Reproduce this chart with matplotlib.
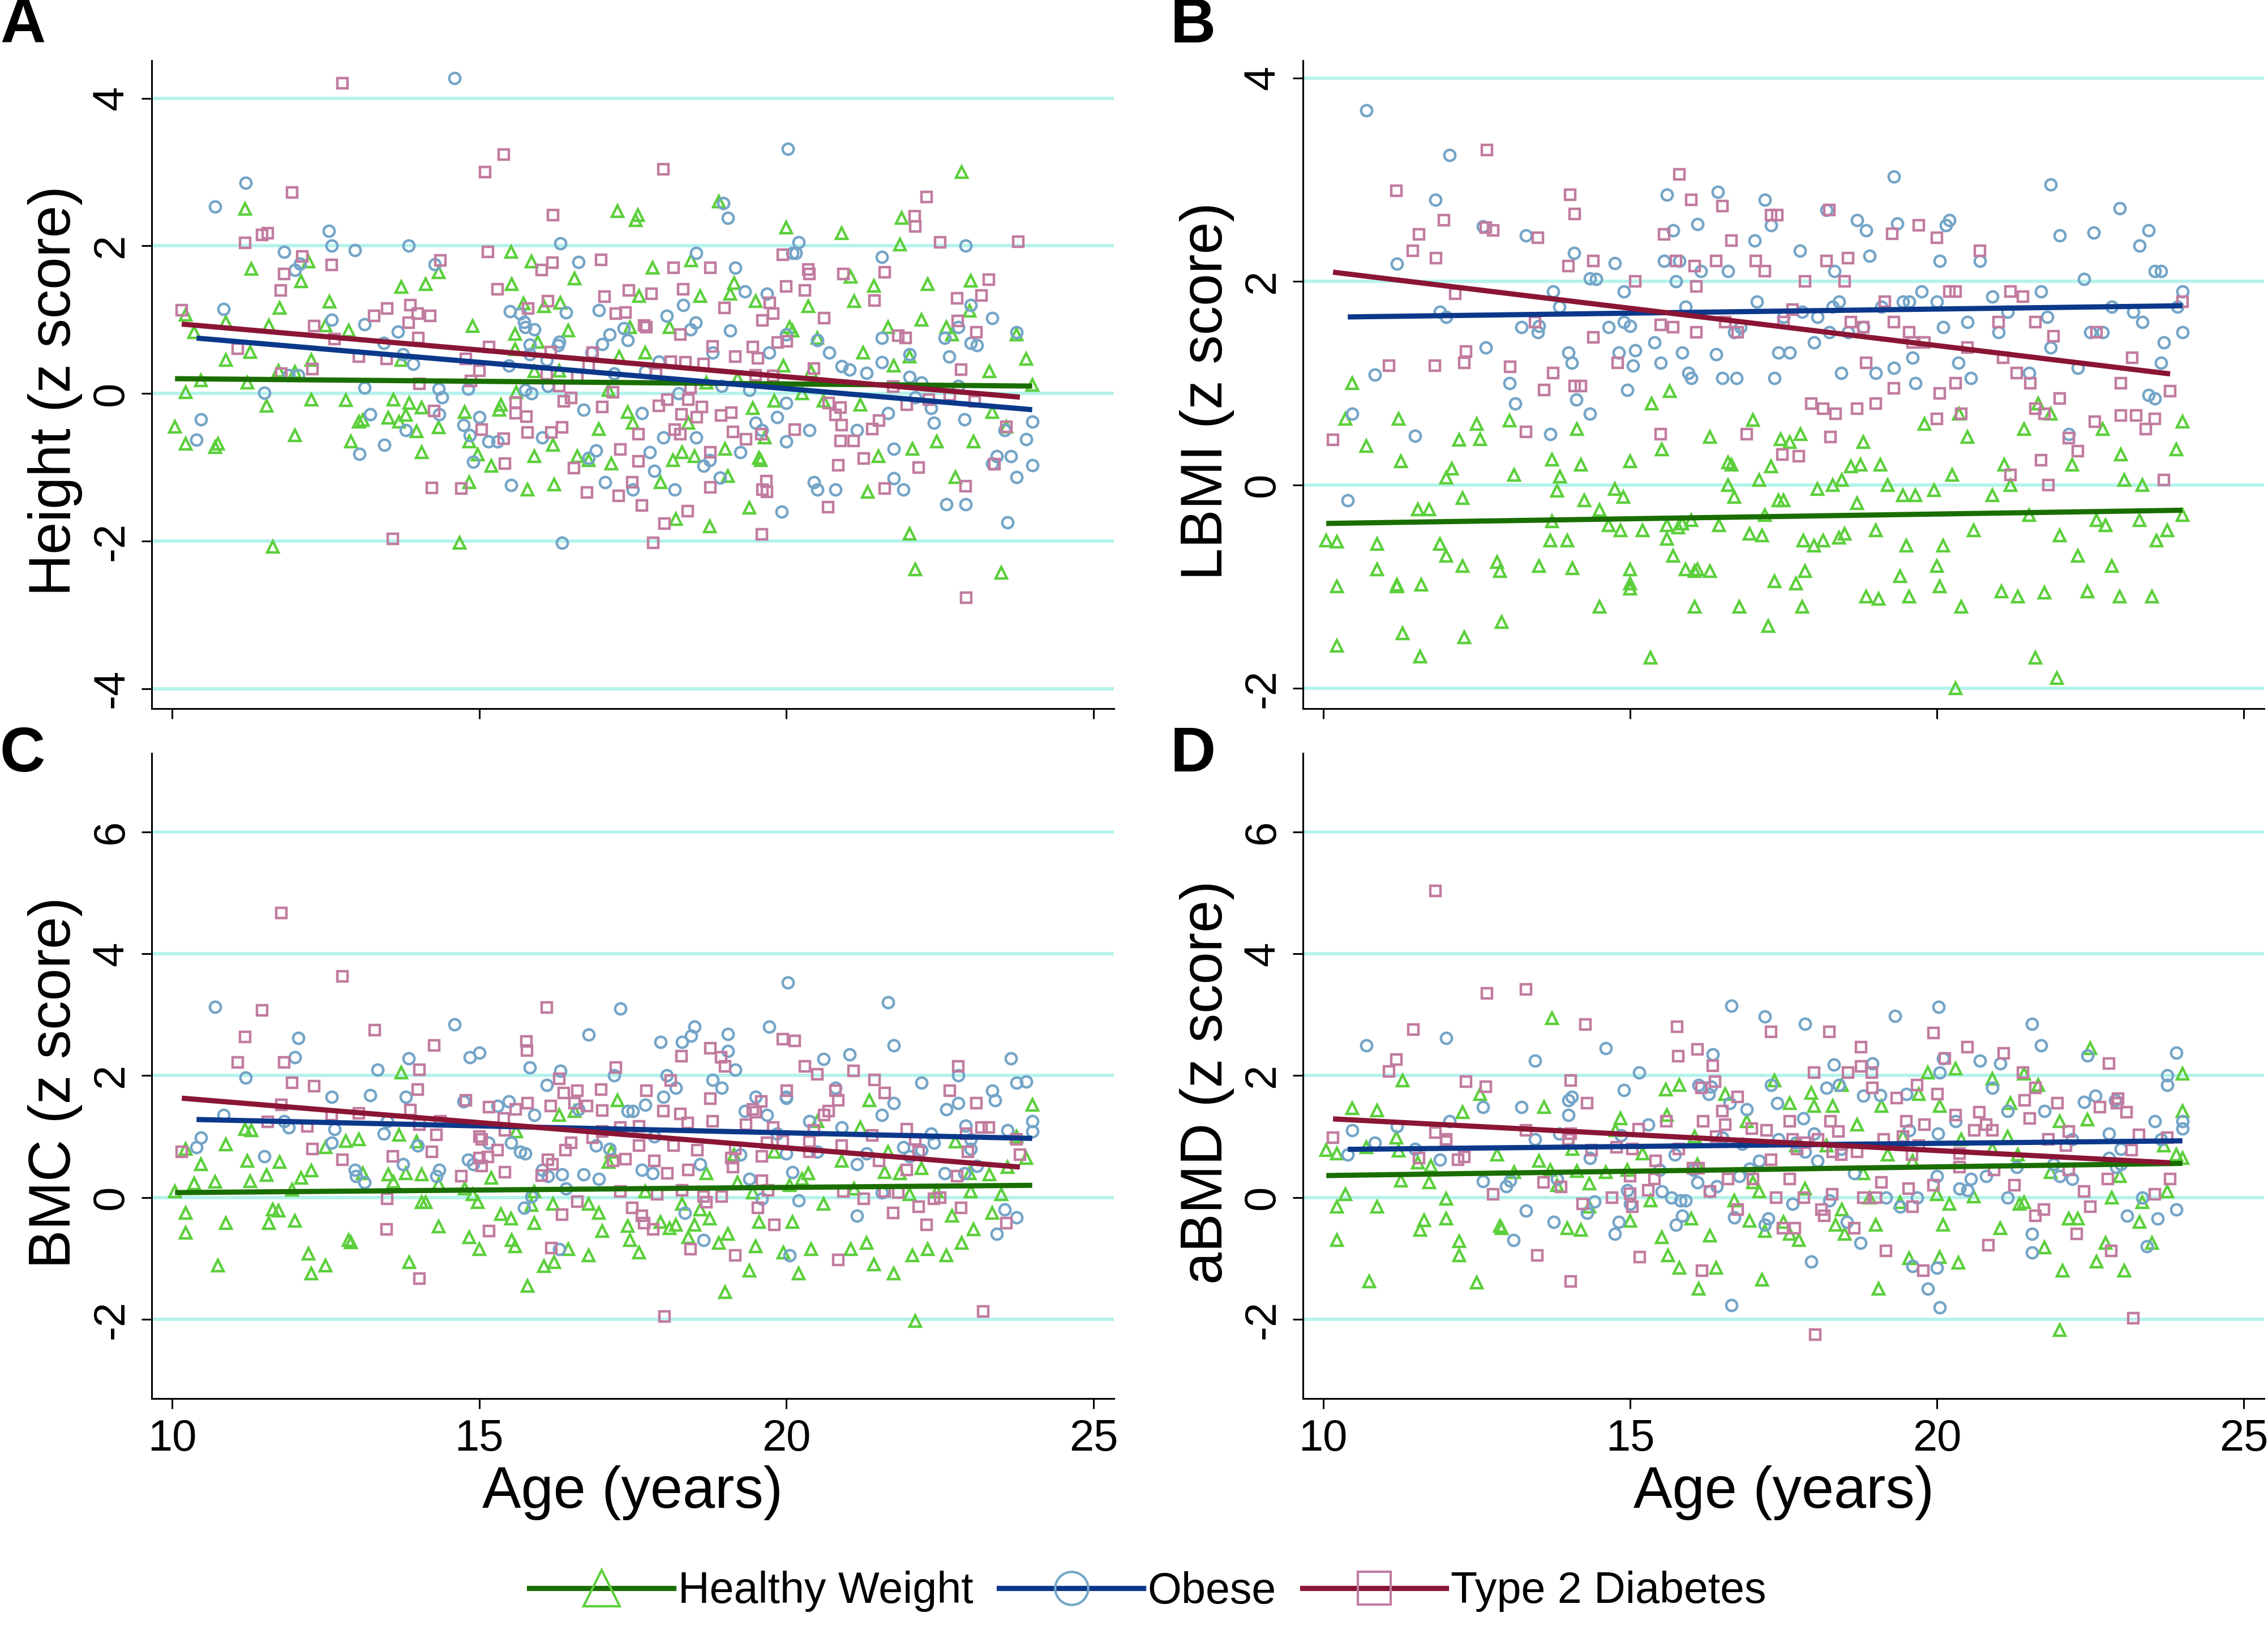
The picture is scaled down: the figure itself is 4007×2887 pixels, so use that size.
import matplotlib
matplotlib.use("Agg")
import matplotlib.pyplot as plt
from matplotlib.lines import Line2D

plt.rcParams['font.family'] = ['Liberation Sans', 'DejaVu Sans']
plt.rcParams['axes.unicode_minus'] = False

W, H = 4007, 2887

a_hw = [(10.05,-.45),(10.22,-.68),(10.22,.02),(10.22,1.07),(10.36,.83),(10.47,.18),(10.7,-.73),(10.75,-.68),(10.88,.45),(10.88,.97),
(11.19,2.5),(11.23,.15),(11.27,.56),(11.29,1.69),(11.54,-.17),(11.58,.92),(11.64,-2.08),(11.73,.31),(11.75,1.16),(12.0,.29),(12.0,-.57),
(12.1,1.52),(12.22,1.79),(12.27,-.08),(12.27,.45),(12.5,.92),(12.56,1.24),(12.83,-.09),(12.88,.85),(12.91,-.65),(13.04,-.38),(13.11,-.36),
(13.52,-.33),(13.6,-.08),(13.7,-.38),(13.73,1.44),(13.73,.45),(13.81,-.29),(13.86,-.13),(13.98,-.51),(14.06,-.8),(14.06,-.19),(14.13,1.48),
(14.34,-.46),(14.34,1.64),(14.68,-2.02),(14.76,-.25),(14.84,-1.2),(14.89,.91),(14.84,-.65),(14.98,-.83),(15.2,-.98),(15.33,-.22),(15.35,-.15),
(15.52,1.92),(15.53,1.48),(15.58,.81),(15.58,.6),(15.6,.02),(15.72,1.22),(15.79,-1.3),(15.85,1.79),(15.9,-.85),(15.9,.3),(15.95,.7),
(16.05,1.18),(16.2,-.7),(16.22,-1.23),(16.3,.31),(16.32,1.23),(16.45,.85),(16.55,1.56),(16.6,-.85),(16.78,-.9),(16.95,-.48),(17.1,.05),
(17.15,-.95),(17.25,2.47),(17.28,.5),(17.42,-.25),(17.45,.9),(17.5,-.4),(17.55,2.35),(17.58,2.42),(17.6,1.32),(17.7,.55),(17.82,1.7),(17.95,-1.2),
(18.1,.9),(18.15,-.9),(18.2,-1.7),(18.3,-.8),(18.4,-.4),(18.45,1.8),(18.5,-.85),(18.6,1.32),(18.7,.15),(18.75,-1.8),(18.9,2.6),(19.0,-.75),
(19.05,-1.12),(19.08,1.35),(19.15,1.5),(19.2,.2),(19.4,-1.55),(19.45,-.2),(19.5,1.25),(19.55,-.87),(19.58,-.9),(19.65,-.6),(19.8,-.1),
(19.95,.38),(20.0,2.25),(20.05,.9),(20.1,.85),(20.25,.0),(20.36,1.18),(20.4,.3),(20.5,.75),(20.6,-.1),(20.9,2.17),(21.05,1.58),(21.1,1.25),
(21.2,-.15),(21.25,.55),(21.32,-1.33),(21.42,1.46),(21.5,-.85),(21.65,.9),(21.75,.38),(21.85,2.02),(21.88,2.38),(22.0,.5),(22.05,-.75),(22.1,-2.38),
(22.0,-1.9),(22.2,1.0),(22.3,1.48),(22.45,-.65),(22.6,.9),(22.7,.8),(22.75,-1.13),(22.85,3.0),(22.98,1.12),(23.0,1.53),(23.05,-.65),(23.3,.3),
(23.35,-.25),(23.5,-2.43),(23.58,-.45),(23.75,.8),(23.9,.47),(24.0,.12)]
a_ob = [(10.4,-.63),(10.47,-.35),(10.7,2.53),(10.84,1.14),(11.2,2.85),(11.5,0.01),(11.83,1.92),(11.9,.25),(12.0,1.67),(12.08,1.76),(12.06,.25),
(12.55,2.2),(12.6,1.0),(12.6,2.0),(12.98,1.94),(13.05,-.82),(13.13,.94),(13.13,.08),(13.23,-.28),(13.45,.68),(13.46,-.7),(13.68,.84),(13.76,.53),
(13.81,-.5),(13.85,2.0),(13.93,.4),(14.28,1.75),(14.34,.06),(14.4,-.05),(14.35,-.28),(14.6,4.27),(14.75,-.43),(14.82,.06),(14.85,-.57),(14.9,-.93),
(15.0,-.32),(15.15,-.65),(15.3,-.65),(15.48,.38),(15.5,1.11),(15.52,-1.24),(15.67,1.08),(15.73,.97),(15.75,.9),(15.75,.05),(15.82,.66),(15.82,.53),
(15.85,.0),(15.9,.87),(16.03,-.6),(16.1,.45),(16.12,.1),(16.28,.65),(16.3,.7),(16.32,2.03),(16.35,-2.02),(16.41,1.1),(16.62,1.78),(16.7,-.22),
(16.78,-.87),(16.83,.55),(16.9,-.77),(16.95,1.13),(17.0,.67),(17.05,-1.2),(17.12,.8),(17.2,.27),(17.35,.88),(17.42,.72),(17.5,-1.3),(17.65,-.27),
(17.7,.3),(17.78,-.8),(17.85,-1.05),(17.92,.43),(18.0,-.6),(18.05,1.05),(18.18,-1.3),(18.25,-.0),(18.32,1.2),(18.44,.87),(18.52,.96),(18.53,1.9),
(18.53,-.6),(18.65,-.98),(18.75,-.9),(18.8,.55),(18.95,.1),(18.92,-1.14),(18.97,2.58),(19.05,2.38),(19.08,.85),(19.17,1.7),(19.25,-.8),(19.32,1.38),
(19.4,.05),(19.5,-.4),(19.6,-.5),(19.68,1.35),(19.72,.55),(19.85,-.32),(19.92,-1.6),(20.0,-.13),(20.0,.8),(20.0,-.65),(20.02,3.31),(20.1,1.9),
(20.15,1.9),(20.2,2.05),(20.37,-.5),(20.45,-1.2),(20.5,-1.3),(20.5,.72),(20.7,.55),(20.8,-1.3),(20.9,.37),(21.03,.32),(21.15,-.5),(21.3,.28),
(21.55,.42),(21.55,1.85),(21.55,.75),(21.65,-.27),(21.75,-.75),(21.75,-1.15),(21.9,-1.3),(22.0,.53),(22.0,.22),(22.1,-.05),(22.2,.15),(22.35,-.2),
(22.4,-.4),(22.58,.75),(22.65,.5),(22.6,-1.5),(22.8,.9),(22.8,.1),(22.9,-.35),(22.92,2.0),(22.92,-1.5),(23.0,.68),(23.1,.65),(23.0,1.2),(23.35,-.95),
(23.35,1.02),(23.42,-.85),(23.55,-.5),(23.6,-1.75),(23.65,-.85),(23.75,-1.13),(23.75,.83),(23.9,-.62),(24.0,-.97),(24.0,-.38)]
a_t2 = [(12.77,4.2),(15.4,3.24),(15.1,3.0),(18.0,3.04),(11.95,2.72),(16.2,2.42),(22.28,2.66),(22.09,2.4),(22.1,2.26),(22.5,2.05),(23.77,2.06),(11.56,2.17),
(11.47,2.15),(11.19,2.04),(12.12,1.86),(12.6,1.74),(14.37,1.8),(15.14,1.92),(11.83,1.62),(11.77,1.4),(16.02,1.67),(16.19,1.77),(16.98,1.81),(18.16,1.7),
(18.76,1.7),(19.94,1.88),(20.36,1.68),(20.37,1.62),(20.93,1.62),(21.6,1.64),(23.29,1.54),(20.0,1.45),(20.3,1.4),(18.32,1.41),(17.44,1.4),(17.8,1.35),
(17.04,1.31),(15.3,1.41),(22.78,1.29),(23.17,1.33),(21.43,1.26),(19.73,1.23),(18.99,1.16),(16.12,1.25),(15.8,1.15),(10.16,1.13),(13.88,1.2),(13.5,1.15),
(13.29,1.05),(14.0,1.08),(14.2,1.05),(13.85,.96),(17.22,1.08),(17.38,1.1),(19.78,1.08),(19.61,.99),(20.61,1.02),(22.79,.98),(23.09,.83),(12.31,.91),
(17.68,.92),(17.72,.9),(18.27,.8),(21.82,.78),(21.94,.75),(12.65,.74),(14.01,.75),(19.86,.69),(20.01,.71),(15.16,.63),(11.07,.61),(18.8,.64),(19.45,.63),
(16.16,.56),(16.85,.55),(13.04,.5),(13.49,.47),(14.78,.47),(19.17,.5),(19.54,.48),(16.78,.38),(18.36,.42),(18.65,.4),(18.12,.43),(12.29,.33),(11.78,.27),
(15.0,.31),(20.45,.34),(22.84,.32),(16.1,.26),(16.6,.22),(17.88,.27),(19.5,.25),(19.78,.24),(14.87,.17),(14.03,.13),(21.74,.09),(16.3,.1),(17.18,.02),
(18.44,.08),(22.66,-.02),(16.5,-.06),(16.38,-.11),(15.59,-.12),(17.0,-.18),(18.06,-.08),(18.4,-.08),(17.92,-.17),(18.62,-.18),(20.69,-.13),(20.88,-.19),
(21.96,-.15),(22.32,-.08),(23.06,-.11),(14.27,-.24),(15.59,-.27),(15.77,-.31),(18.29,-.28),(19.1,-.26),(18.94,-.3),(18.54,-.32),(20.8,-.29),(21.51,-.37),
(20.9,-.43),(23.58,-.45),(21.4,-.48),(20.13,-.49),(18.18,-.49),(18.27,-.55),(19.13,-.52),(19.59,-.55),(16.35,-.46),(16.17,-.53),(15.04,-.49),(15.79,-.53),
(17.59,-.55),(15.4,-.61),(19.34,-.62),(20.88,-.64),(21.09,-.64),(17.3,-.76),(18.76,-.8),(17.59,-.92),(21.26,-.88),(15.42,-.95),(16.54,-1.01),(20.84,-.97),
(22.15,-1.0),(23.39,-.96),(17.49,-1.2),(19.67,-1.19),(14.23,-1.28),(14.71,-1.29),(18.76,-1.27),(19.61,-1.3),(19.68,-1.33),(21.6,-1.29),(22.92,-1.26),
(16.75,-1.34),(17.27,-1.39),(17.65,-1.52),(18.39,-1.59),(20.68,-1.54),(18.02,-1.76),(19.6,-1.91),(13.59,-1.97),(17.83,-2.02),(22.93,-2.77)]

# panel B
b_hw = [(10.05,-.55),(10.22,-.56),(10.22,-1.0),(10.22,-1.58),(10.36,.65),(10.47,1.0),(10.7,.38),(10.88,-.58),(10.88,-.83),(11.2,-1.0),(11.2,-.98),(11.23,.65),
(11.27,.23),(11.29,-1.46),(11.54,-.24),(11.58,-1.69),(11.73,-.24),(11.6,-.98),(11.9,-.58),(12.0,-.7),(12.0,.07),(12.1,.16),(12.22,.44),(12.27,-.8),(12.27,-.13),
(12.3,-1.5),(12.5,.6),(12.56,.45),(12.83,-.76),(12.88,-.85),(12.91,-1.35),(13.04,.63),(13.11,.1),(13.52,-.8),(13.7,-.55),(13.73,-.36),(13.73,.25),(13.81,-.06),
(13.86,.08),(13.98,-.55),(14.06,-.82),(14.13,.55),(14.2,.2),(14.25,-.15),(14.5,-.25),(14.5,-1.2),(14.65,-.4),(14.75,-.04),(14.84,-.45),(14.89,-.12),(15.0,.23),
(15.0,-.83),(15.0,-.97),(15.0,-1.02),(15.2,-.45),(15.35,.8),(15.33,-1.7),(15.52,.35),(15.6,-.4),(15.6,-.53),(15.65,.92),(15.7,-.7),(15.78,-.42),(15.85,-.38),
(15.9,-.83),(16.0,-.35),(16.05,-.85),(16.05,-1.2),(16.1,-.83),(16.3,-.85),(16.3,.47),(16.45,-.4),(16.6,.22),(16.6,.0),(16.65,.2),(16.7,-.12),(16.78,-1.2),
(16.95,-.48),(17.0,.64),(17.1,.05),(17.15,-.5),(17.2,-.3),(17.25,-1.39),(17.3,.18),(17.35,-.95),(17.42,-.15),(17.45,.45),(17.5,-.15),(17.6,.42),(17.7,-.97),
(17.78,.5),(17.8,-1.2),(17.82,-.55),(17.85,-.85),(18.0,-.6),(18.05,-.04),(18.15,-.55),(18.3,.0),(18.4,-.52),(18.45,.05),(18.5,-.48),(18.6,.18),(18.7,-.18),
(18.75,.2),(18.8,.42),(18.85,-1.1),(19.0,-.45),(19.05,-1.12),(19.08,.2),(19.2,.0),(19.4,-.9),(19.45,-.1),(19.5,-.6),(19.55,-1.1),(19.65,-.1),(19.8,.6),(19.95,-.05),
(20.0,-.8),(20.05,-1.0),(20.1,-.6),(20.25,.1),(20.36,.7),(20.4,-1.2),(20.3,-2.0),(20.5,.47),(20.6,-.45),(20.9,-.1),(21.05,-1.05),(21.1,.2),(21.2,.0),(21.32,-1.1),(21.42,.55),
(21.5,-.3),(21.65,.8),(21.75,-1.06),(21.85,.7),(21.6,-1.7),(22.0,-.5),(21.95,-1.9),(22.2,.2),(22.3,-.7),(22.45,-1.05),(22.6,-.35),(22.7,.55),(22.75,-.4),(22.85,-.8),
(22.98,-1.1),(23.0,.3),(23.05,.05),(23.3,-.35),(23.35,.0),(23.5,-1.1),(23.58,-.55),(23.75,-.45),(23.9,.35),(24.0,.62),(24.0,-.3)]
b_ob = [(10.4,-.15),(10.47,.7),(10.7,3.68),(10.84,1.08),(11.2,2.17),(11.5,.48),(11.83,2.8),(11.9,1.7),(12.0,1.65),(12.06,3.24),(12.6,2.54),(12.65,1.35),
(13.04,1.0),(13.13,.8),(13.23,1.55),(13.3,2.45),(13.5,1.5),(13.52,1.56),(13.7,.5),(13.75,1.9),(13.85,1.75),(14.0,1.3),(14.05,1.2),(14.09,2.28),(14.12,.84),(14.35,2.03),
(14.35,.7),(14.45,2.02),(14.65,1.55),(14.75,2.18),(14.82,1.3),(14.9,1.9),(14.9,1.6),(14.95,.93),(15.0,1.56),(15.05,1.17),(15.08,1.32),(15.4,1.4),(15.5,1.2),
(15.55,2.2),(15.6,2.85),(15.7,2.5),(15.75,2.0),(15.8,2.2),(15.85,1.3),(15.9,1.75),(15.95,1.1),(16.0,1.05),(16.1,2.56),(16.15,2.1),(16.4,1.28),(16.43,2.88),(16.5,1.05),
(16.6,2.1),(16.7,1.5),(16.73,1.05),(16.8,1.55),(17.03,2.4),(17.07,1.8),(17.2,2.8),(17.3,2.55),(17.35,1.05),(17.42,1.3),(17.5,1.65),(17.6,1.3),(17.77,2.3),(17.8,1.7),
(18.0,1.4),(18.05,1.65),(18.2,2.7),(18.25,1.5),(18.3,1.75),(18.33,2.1),(18.4,1.8),(18.44,1.1),(18.55,1.5),(18.7,2.6),(18.8,1.55),(18.85,2.5),(18.9,2.25),(19.0,1.1),
(19.1,1.75),(19.3,1.15),(19.35,2.57),(19.45,1.8),(19.55,1.8),(19.6,1.25),(19.65,1.0),(19.3,3.03),(19.75,1.9),(20.0,1.8),(20.05,2.2),(20.1,1.55),(20.15,2.55),(20.2,2.6),
(20.35,1.2),(20.5,1.6),(20.55,1.05),(20.7,2.2),(20.9,1.85),(21.0,1.5),(21.15,1.7),(21.5,1.1),(21.7,1.9),(21.8,1.65),(21.85,1.35),(22.0,2.45),(22.15,.5),(22.3,1.15),
(22.4,2.02),(22.5,1.5),(22.55,2.48),(22.7,1.5),(22.85,1.75),(21.85,2.95),(23.2,1.7),(23.3,2.35),(23.35,1.6),(23.45,.88),(23.55,.85),(23.65,1.2),(23.7,1.4),
(22.98,2.72),(23.45,2.5),(23.55,2.1),(23.65,2.1),(24.0,1.9),(24.0,1.5),(23.92,1.75)]
b_t2 = [(10.16,.44),(11.07,1.17),(11.19,2.89),(11.46,2.3),(11.56,2.46),(11.82,1.17),(11.84,2.23),(11.97,2.6),(12.15,1.88),(12.3,1.2),(12.33,1.31),(12.65,2.53),(12.77,2.5),
(12.67,3.29),(13.05,1.16),(13.5,2.43),(13.3,.52),(13.6,.93),(13.45,1.6),(13.75,1.1),(14.02,2.85),(14.0,2.15),(14.1,2.66),(14.1,.97),(14.2,.97),(14.4,2.2),(14.4,1.45),
(14.8,1.2),(15.08,2.0),(15.5,.5),(15.55,2.46),(15.5,1.57),(15.7,1.55),(15.75,2.2),(16.0,2.8),(16.05,2.15),(16.08,1.95),(16.08,1.5),(15.8,3.05),(16.4,2.2),(16.5,2.74),
(16.55,1.6),(16.65,2.4),(16.75,1.5),(16.9,.5),(17.05,2.2),(17.2,2.1),(17.3,2.65),(17.4,2.65),(17.48,.3),(17.5,1.6),(17.65,1.72),(17.75,.28),(17.85,2.0),(17.95,.8),(18.15,.75),
(18.2,2.2),(18.25,2.7),(18.27,.47),(18.35,.7),(18.5,2.0),(18.55,2.23),(18.6,1.6),(18.7,.75),(18.8,1.55),(18.85,1.2),(19.0,.8),(19.15,1.8),(19.27,2.47),(19.3,.95),
(19.3,1.6),(19.55,1.5),(19.6,1.4),(19.7,2.55),(19.8,1.4),(20.0,2.43),(20.0,.65),(20.05,.9),(20.2,1.9),(20.3,1.0),(20.3,1.9),(20.4,.7),(20.5,1.35),(20.7,2.3),(21.0,1.6),
(21.08,1.25),(21.2,1.9),(21.2,.1),(21.3,1.1),(21.4,1.85),(21.52,1.0),(21.6,.75),(21.7,.24),(21.75,.7),(21.6,1.6),(21.82,.0),(21.9,1.46),(22.0,.85),(22.15,.46),(22.3,.33),
(22.57,.62),(22.6,1.5),(23.0,1.0),(23.18,1.25),(23.0,.68),(23.25,.68),(23.4,.55),(23.55,.65),(23.7,.05),(23.8,.92),(24.0,1.8)]

# panel C
c_hw = [(10.05,.1),(10.22,-.25),(10.22,-.58),(10.22,.8),(10.36,.23),(10.47,.55),(10.7,.26),(10.75,-1.12),(10.88,-.42),(10.88,.87),(11.19,1.12),(11.23,.6),(11.27,.27),(11.29,1.1),
(11.54,.37),(11.58,-.42),(11.64,-.2),(11.73,-.22),(11.75,.58),(11.95,.13),(12.0,-.38),(12.1,.32),(12.22,-.92),(12.27,.44),(12.27,-1.25),(12.5,.82),(12.5,-1.12),(12.83,.93),
(12.88,-.7),(12.91,-.74),(13.04,.95),(13.11,.4),(13.52,.38),(13.6,.26),(13.7,1.03),(13.73,2.05),(13.81,.4),(13.86,-1.06),(13.98,.92),(14.06,.38),(14.06,-.08),(14.13,-.08),
(14.34,.22),(14.34,-.48),(14.76,.15),(14.84,-.65),(14.89,.05),(14.98,-.08),(15.0,-.85),(15.2,.32),(15.35,-.27),(15.52,-.35),(15.53,-.7),(15.58,-.8),(15.6,1.08),(15.79,-1.45),
(15.85,-.12),(15.9,-.42),(15.9,.1),(16.05,-1.13),(16.2,-.1),(16.22,-1.06),(16.3,1.35),(16.45,-.85),(16.55,1.42),(16.78,-.1),(16.78,-.95),(16.95,-.25),(17.0,-.55),(17.1,.58),
(17.15,.75),(17.25,1.6),(17.42,-.47),(17.45,-.7),(17.6,-.9),(17.7,.1),(17.95,-.4),(18.1,-.5),(18.2,-.45),(18.3,-.1),(18.4,-.65),(18.5,-.45),(18.6,-.2),(18.7,.4),(18.75,-.35),
(18.9,-.75),(19.0,-1.55),(19.05,-.6),(19.15,.7),(19.2,.25),(19.4,-1.2),(19.45,.08),(19.5,-.8),(19.55,-.4),(19.8,.75),(19.95,-.9),(20.05,.2),(20.1,-.4),(20.2,-1.25),(20.25,.3),
(20.36,.4),(20.4,-.85),(20.5,1.25),(20.6,-.1),(20.9,.6),(21.05,-.85),(21.1,.15),(21.2,1.15),(21.3,-.75),(21.35,1.6),(21.42,-1.1),(21.6,.42),(21.65,.75),(21.75,-1.25),(21.85,.4),
(22.0,.05),(22.05,-.95),(22.1,-2.03),(22.2,.48),(22.3,-.85),(22.45,.1),(22.6,-.95),(22.7,-.3),(22.75,.92),(22.85,-.75),(22.98,.4),(23.0,.1),(23.05,-.52),(23.3,.38),(23.35,-.25),
(23.5,.05),(23.6,.5),(23.75,1.0),(23.9,.65),(24.0,1.52)]
c_ob = [(10.4,.82),(10.47,.98),(10.7,3.13),(10.84,1.35),(11.2,1.97),(11.5,.68),(11.83,1.25),(11.9,1.15),(12.0,2.3),(12.06,2.62),(12.6,1.65),(12.6,.9),(12.65,1.12),(12.98,.45),
(13.0,.35),(13.13,.25),(13.23,1.68),(13.35,2.1),(13.45,1.05),(13.5,1.25),(13.76,.55),(13.81,1.65),(13.85,2.28),(14.0,.85),(14.35,.45),(14.3,.35),(14.6,2.84),(14.75,1.58),(14.82,.62),
(14.85,2.3),(14.9,.55),(15.0,2.38),(15.15,.9),(15.3,1.5),(15.48,1.58),(15.52,.9),(15.67,.75),(15.73,-.17),(15.75,.72),(15.85,.02),(15.9,1.35),(15.82,2.13),(16.03,.45),(16.1,1.85),
(16.12,.35),(16.3,-.85),(16.32,2.08),(16.35,.38),(16.41,.15),(16.62,1.45),(16.7,.38),(16.78,2.67),(16.9,.85),(16.95,.3),(17.12,.8),(17.2,2.0),(17.3,3.1),(17.42,1.42),(17.5,1.42),
(17.65,.45),(17.7,1.52),(17.82,.4),(17.85,1.0),(17.95,2.55),(18.0,1.65),(18.05,2.0),(18.2,1.8),(18.3,2.55),(18.35,-.25),(18.45,2.65),(18.5,2.8),(18.6,.55),(18.65,-.7),(18.8,1.93),
(18.95,1.8),(19.05,2.68),(19.05,2.4),(19.17,2.1),(19.25,.7),(19.32,1.42),(19.4,.3),(19.5,1.65),(19.6,-.02),(19.68,1.35),(19.72,2.8),(19.85,1.05),(20.0,1.65),(20.0,1.63),(20.0,.72),
(20.02,3.53),(20.05,-.95),(20.1,.42),(20.2,-.05),(20.37,1.25),(20.5,.75),(20.6,2.27),(20.8,1.8),(20.9,1.15),(21.03,2.35),(21.15,-.3),(21.15,.55),(21.3,.72),(21.55,.08),(21.55,1.35),
(21.65,3.2),(21.75,2.5),(21.75,1.55),(21.9,.82),(22.0,.68),(22.2,.78),(22.2,1.88),(22.35,1.05),(22.4,.9),(22.58,.4),(22.6,1.45),(22.8,2.0),(22.8,1.55),(22.9,.4),(22.92,1.18),
(23.0,.8),(23.1,.52),(23.0,.95),(23.35,1.75),(23.4,1.6),(23.42,-.6),(23.55,-.2),(23.6,1.1),(23.65,2.28),(23.75,-.33),(23.75,1.88),(23.9,1.9),(24.0,1.25),(24.0,1.08)]
c_t2 = [(10.16,.75),(11.07,2.22),(11.19,2.64),(11.47,3.07),(11.56,1.24),(11.78,4.67),(11.78,1.52),(11.83,2.22),(11.95,1.88),(12.2,1.17),(12.29,.8),(12.31,1.83),(12.6,1.35),(12.77,3.63),(12.77,.62),
(13.04,1.38),(13.3,2.75),(13.49,-.52),(13.5,-.02),(13.59,.68),(13.88,1.44),(14.0,1.77),(14.03,2.1),(14.03,1.2),(14.03,-1.33),(14.23,.75),(14.27,2.5),(14.3,1.03),(14.37,1.25),
(14.71,.35),(14.78,1.6),(15.0,1.0),(15.04,.95),(15.04,.52),(15.0,.65),(15.14,.67),(15.16,1.48),(15.16,-.55),(15.3,.78),(15.4,1.3),(15.42,.42),(15.42,1.1),(15.59,1.45),(15.77,2.56),
(15.78,2.41),(15.79,1.55),(16.02,.36),(16.1,3.12),(16.12,.62),(16.16,1.5),(16.17,-.83),(16.19,.55),(16.3,1.95),(16.35,-.28),(16.38,1.72),(16.4,.78),(16.5,.9),(16.55,1.55),(16.6,1.75),
(16.6,-.07),(16.75,1.5),(16.85,.98),(16.98,1.77),(17.0,1.43),(17.0,1.08),(17.18,.6),(17.22,2.13),(17.3,1.15),(17.3,.1),(17.38,.63),(17.49,-.17),(17.6,1.17),(17.6,.85),(17.65,-.3),
(17.68,-.42),(17.72,1.75),(17.83,-.52),(17.85,.6),(17.9,.05),(18.0,1.42),(18.02,-1.95),(18.06,.4),(18.12,1.92),(18.16,.85),(18.27,1.37),(18.29,2.32),(18.3,.12),(18.39,1.22),
(18.4,.45),(18.44,-.85),(18.55,.78),(18.65,.02),(18.7,-.08),(18.76,2.45),(18.76,1.62),(18.8,1.25),(18.94,2.3),(18.95,.02),(19.0,2.15),(19.1,.65),(19.13,.5),(19.17,.8),(19.17,-.95),
(19.34,1.2),(19.45,1.45),(19.5,1.4),(19.54,-.17),(19.59,1.58),(19.6,.68),(19.6,.28),(19.68,.9),(19.7,.12),(19.78,1.15),(19.8,-.45),(19.94,.93),(19.94,2.6),(20.01,1.75),(20.13,2.57),
(20.3,2.15),(20.37,.75),(20.37,.92),(20.45,1.1),(20.5,2.02),(20.61,1.35),(20.69,1.42),(20.8,1.75),(20.84,1.6),(20.84,-1.02),(20.9,.85),(20.93,.1),(21.09,2.08),(21.26,-.02),(21.4,1.02),
(21.43,1.93),(21.51,.6),(21.6,.1),(21.6,1.72),(21.74,-.25),(21.82,.08),(21.96,.45),(21.96,1.12),(22.1,.95),(22.15,.75),(22.15,-.15),(22.28,-.45),(22.4,-.02),(22.5,.0),(22.66,1.75),
(22.78,.35),(22.8,2.15),(22.84,-.17),(22.93,1.05),(22.95,.75),(23.09,1.55),(23.17,1.15),(23.2,-1.87),(23.29,1.15),(23.75,.95),(23.58,-.42),(23.8,.7)]

# panel D
d_hw = [(10.05,.78),(10.22,.72),(10.22,-.15),(10.22,-.7),(10.36,.05),(10.47,1.47),(10.7,.82),(10.75,-1.38),(10.88,-.15),(10.88,1.43),(11.19,.98),(11.23,.77),(11.27,.28),(11.29,1.92),
(11.54,.57),(11.58,-.53),(11.64,-.37),(11.73,.25),(11.75,.52),(12.0,-.02),(12.0,-.35),(12.22,-.72),(12.22,-.95),(12.27,1.4),(12.5,-1.4),(12.56,1.7),(12.83,.7),(12.88,-.47),(12.91,-.5),
(13.11,.42),(13.52,.6),(13.6,1.48),(13.7,.45),(13.73,2.94),(13.81,.2),(13.98,-.5),(14.06,.8),(14.13,.43),(14.2,-.53),(14.34,.23),(14.34,-.15),(14.6,.42),(14.76,1.1),(14.84,1.3),(14.95,.45),
(15.0,-.38),(15.2,.72),(15.33,-.05),(15.52,-.65),(15.58,1.77),(15.6,1.35),(15.62,-.95),(15.8,1.85),(15.8,-1.15),(16.0,-.35),(16.05,1.0),(16.1,.55),(16.12,-1.5),(16.3,-.62),(16.4,-1.15),
(16.55,1.7),(16.7,-.05),(16.9,1.25),(16.95,-.38),(17.0,.25),(17.1,.1),(17.15,-1.35),(17.2,-.55),(17.35,1.92),(17.5,-.4),(17.6,1.55),(17.6,-.6),(17.7,.85),(17.75,-.7),(17.85,.15),(17.95,1.72),
(18.0,1.5),(18.2,.85),(18.3,1.5),(18.35,-.45),(18.45,1.85),(18.45,-.2),(18.5,-.6),(18.7,1.2),(18.8,.4),(18.9,.0),(19.0,-.45),(19.05,-1.5),(19.1,1.5),(19.2,.7),(19.4,-.08),(19.45,1.0),
(19.55,-1.0),(19.6,.6),(19.7,1.7),(19.85,2.05),(20.0,.05),(20.05,1.5),(20.05,-.98),(20.1,-.45),(20.2,-.1),(20.3,2.12),(20.35,-1.07),(20.4,.95),(20.6,.02),(20.9,1.95),(20.9,.8),(21.03,-.5),
(21.15,1.0),(21.2,1.55),(21.32,.7),(21.35,-.1),(21.42,2.03),(21.42,-.08),(21.65,1.85),(21.75,-.82),(21.85,.42),(22.0,1.25),(22.05,-1.2),(22.15,-.35),(22.3,-.35),(22.45,1.28),(22.6,-1.05),
(22.0,-2.18),(22.75,-.75),(22.85,.0),(22.98,.35),(22.5,2.45),(23.05,-1.2),(23.3,-.4),(23.35,-.08),(23.5,-.75),(23.7,.85),(23.75,.1),(23.9,.7),(24.0,1.42),(24.0,.65),(24.0,2.03)]
d_ob = [(10.4,.7),(10.47,1.1),(10.7,2.5),(10.84,.9),(11.2,1.17),(11.5,.8),(11.9,.62),(12.0,2.62),(12.06,1.25),(12.6,1.48),(12.6,.27),(12.98,.18),(13.05,.28),(13.1,-.7),(13.23,1.48),
(13.3,-.22),(13.45,2.25),(13.45,.95),(13.76,-.4),(13.81,.3),(13.85,1.05),(14.0,1.6),(14.0,1.35),(14.05,1.65),(14.35,.65),(14.3,-.25),(14.42,-.07),(14.6,2.45),(14.75,-.6),(14.82,-.4),
(14.85,1.02),(14.9,1.76),(14.95,.12),(15.0,-.1),(15.15,2.05),(15.3,1.2),(15.48,.45),(15.52,.1),(15.67,.0),(15.73,.7),(15.75,-.45),(15.82,-.05),(15.85,-.3),(15.9,-.05),(16.03,.45),(16.1,.25),
(16.12,1.85),(16.28,1.7),(16.3,.1),(16.32,1.82),(16.35,2.35),(16.41,.18),(16.5,.98),(16.62,1.55),(16.65,-1.77),(16.7,-.33),(16.78,.35),(16.83,.88),(16.9,1.45),(16.95,.47),(16.65,3.15),
(17.1,.6),(17.2,-.45),(17.25,-.35),(17.3,1.85),(17.4,1.55),(17.42,.95),(17.2,2.97),(17.65,-.1),(17.7,.9),(17.82,1.3),(17.85,.75),(17.95,-1.05),(18.0,1.05),(18.05,.6),(18.2,1.8),(18.25,-.05),
(18.32,2.18),(18.4,1.85),(18.44,.8),(17.85,2.85),(18.53,-.4),(18.65,.4),(18.75,-.75),(18.8,1.67),(18.95,2.2),(19.08,1.68),(19.17,.0),(19.32,2.98),(19.4,-.15),(19.5,1.7),(19.55,1.1),(19.6,-1.13),
(19.68,.0),(19.85,-1.5),(20.0,-1.15),(20.05,2.05),(20.0,.35),(20.02,1.05),(20.1,2.28),(20.03,3.13),(20.05,-1.8),(20.3,1.25),(20.37,.15),(20.5,.12),(20.55,.3),(20.7,2.25),(20.8,.35),(20.9,1.8),
(21.03,2.2),(21.15,1.42),(21.15,.0),(21.3,.5),(21.55,-.6),(21.55,-.9),(21.55,2.85),(21.7,2.5),(21.75,1.42),(21.9,.55),(22.0,.35),(22.2,.95),(22.2,.3),(22.4,1.57),(22.58,1.67),(22.45,2.33),
(22.8,1.05),(22.8,.65),(22.9,1.6),(22.92,.5),(23.0,.8),(23.1,-.3),(23.0,.55),(23.35,.0),(23.42,-.8),(23.55,1.25),(23.6,-.35),(23.65,.95),(23.75,2.0),(23.75,1.85),(23.9,2.38),(24.0,1.13),(24.0,1.25),(23.9,-.2)]
d_t2 = [(10.16,.98),(11.07,2.07),(11.19,2.26),(11.47,2.76),(11.56,.65),(11.83,1.07),(11.83,5.03),(12.0,.92),(12.0,.95),(12.2,.62),(12.3,.67),(12.33,1.9),(12.65,1.82),(12.77,.05),(12.67,3.35),
(13.3,1.1),(13.3,3.42),(13.49,-.95),(13.59,.25),(13.88,.17),(14.0,.95),(14.03,1.92),(14.03,1.05),(14.03,-1.38),(14.23,-.1),(14.27,2.84),(14.3,1.55),(14.37,.78),(14.71,.0),(14.78,.82),(15.0,.06),
(15.04,-.15),(15.04,.8),(15.0,.35),(15.14,1.12),(15.16,-.98),(15.3,.12),(15.4,.3),(15.42,.6),(15.59,1.25),(15.77,2.8),(15.78,2.32),(15.79,.8),(16.02,.48),(16.1,2.43),(16.12,.48),(16.16,1.8),
(16.17,-1.2),(16.19,1.25),(16.3,.1),(16.35,2.16),(16.38,1.9),(16.4,1.0),(16.5,1.42),(16.55,1.2),(16.75,1.65),(16.6,.3),(16.75,-.2),(16.98,1.13),(17.0,.3),(17.22,1.1),(17.3,.62),(17.3,2.72),
(17.38,.0),(17.49,-.5),(17.6,1.25),(17.6,.3),(17.65,.95),(17.68,-.5),(17.72,.8),(17.83,.0),(17.85,.9),(18.0,2.05),(18.02,-2.25),(18.06,.95),(18.12,-.2),(18.16,-.3),(18.27,1.25),(18.29,.05),
(18.3,.75),(18.39,1.08),(18.25,2.72),(18.44,.7),(18.55,2.05),(18.65,-.5),(18.7,.75),(18.76,2.47),(18.76,2.15),(18.8,.0),(18.94,2.05),(18.95,1.8),(19.0,.0),(19.1,.25),(19.13,.95),(19.17,-.88),
(19.34,1.63),(19.45,1.0),(19.5,1.25),(19.54,.15),(19.59,.7),(19.6,-.15),(19.68,1.85),(19.7,.85),(19.78,-1.2),(19.8,1.2),(19.94,2.7),(19.94,.2),(20.01,1.7),(20.13,2.28),(20.3,1.35),(20.37,.72),
(20.37,.5),(20.5,2.47),(20.61,1.1),(20.69,1.4),(20.8,1.2),(20.84,-.78),(20.9,1.1),(20.93,.45),(21.09,2.37),(21.26,.2),(21.4,2.05),(21.43,1.6),(21.51,1.3),(21.6,-.3),(21.6,1.8),(21.74,-.2),
(21.82,.95),(21.96,1.55),(22.1,.85),(22.15,.45),(22.15,1.08),(22.28,-.6),(22.4,.1),(22.5,-.15),(22.66,1.48),(22.78,.3),(22.8,2.2),(22.84,-.88),(22.93,1.55),(22.95,1.62),(23.09,1.4),(23.17,.78),
(23.2,-1.98),(23.29,1.03),(23.55,.05),(23.75,.98),(23.8,.3)]

# fitted lines, end points as (age, z score)
a_fits = [[(10.05,.2),(24,.1)], [(10.4,.75),(24,-.22)], [(10.16,.94),(23.8,-.05)]]
b_fits = [[(10.05,-.38),(24,-.25)], [(10.4,1.65),(24,1.76)], [(10.16,2.09),(23.8,1.09)]]
c_fits = [[(10.05,.08),(24,.2)], [(10.4,1.28),(24,.97)], [(10.16,1.63),(23.8,.5)]]
d_fits = [[(10.05,.36),(24,.56)], [(10.4,.79),(24,.93)], [(10.16,1.29),(23.8,.57)]]

group_names = ['Healthy Weight', 'Obese', 'Type 2 Diabetes']
markers = ['^', 'o', 's']
point_colors = ['#5ccf3c', '#74a5c8', '#c17ca0']
line_colors = ['#1a6e00', '#0b388a', '#8a1535']
x_ticks = [10, 15, 20, 25]
GRID = '#b4f3ec'


def add_panel(box, letter, letter_xy, ylabel, series, fits, yticks, ylim, show_x):
    left, top, right, bottom = box
    ax = fig.add_axes([left / W, 1 - bottom / H, (right - left) / W, (bottom - top) / H])
    ax.set_xlim(9.67, 25.33)
    ax.set_ylim(*ylim)
    ax.set_xticks(x_ticks)
    ax.set_yticks(yticks)
    ax.yaxis.grid(True, color=GRID, lw=4.2, zorder=0)
    ax.set_axisbelow(True)
    for side in ['top', 'right']:
        ax.spines[side].set_visible(False)
    for side in ['left', 'bottom']:
        ax.spines[side].set_linewidth(2.2)
    ax.tick_params(axis='both', length=13, width=2.2, pad=12, labelsize=56)
    ax.tick_params(axis='y', labelrotation=90)
    for lab in ax.get_yticklabels():
        lab.set_va('center')
    if not show_x:
        ax.set_xticklabels([])
    else:
        ax.set_xlabel('Age (years)', fontsize=74)
        ax.xaxis.set_label_coords(0.5, -0.146)
        ax.xaxis.label.set_va('center')

    for pts, m, c in zip(series, markers, point_colors):
        ages = [p[0] for p in pts]
        vals = [p[1] for p in pts]
        size = 15 if m == '^' else 13 if m == 's' else 14
        ax.plot(ages, vals, ls='none', marker=m, ms=size, mfc='none', mec=c, mew=3.2, zorder=2)
    for pts, c in zip(fits, line_colors):
        ax.plot([p[0] for p in pts], [p[1] for p in pts], color=c, lw=6.6, zorder=3, solid_capstyle='butt')

    ax.set_ylabel(ylabel, fontsize=74)
    ax.yaxis.set_label_coords(-0.1, 0.49)
    ax.yaxis.label.set_va('center')
    fig.text(letter_xy[0] / W, 1 - letter_xy[1] / H, letter, fontsize=80, fontweight='bold', va='center', ha='left')
    return ax


fig = plt.figure(figsize=(W / 100, H / 100), dpi=100, facecolor='white')

add_panel((268, 107, 1968, 1252), 'A', (0, 46), 'Height (z score)', [a_hw, a_ob, a_t2], a_fits, [-4, -2, 0, 2, 4], (-4.27, 4.51), False)
add_panel((2302, 107, 4000, 1252), 'B', (2068, 46), 'LBMI (z score)', [b_hw, b_ob, b_t2], b_fits, [-2, 0, 2, 4], (-2.2, 4.17), False)
add_panel((268, 1331, 1968, 2471), 'C', (0, 1334), 'BMC (z score)', [c_hw, c_ob, c_t2], c_fits, [-2, 0, 2, 4, 6], (-3.3, 7.29), True)
add_panel((2302, 1331, 4000, 2471), 'D', (2068, 1334), 'aBMD (z score)', [d_hw, d_ob, d_t2], d_fits, [-2, 0, 2, 4, 6], (-3.3, 7.29), True)

handles = [Line2D([], [], color=lc, lw=6.6, marker=m, ms=ms, mfc='none', mec=pc, mew=3)
           for lc, m, pc, ms in zip(line_colors, markers, point_colors, [46, 42, 42])]
fig.legend(handles, group_names, ncol=3, frameon=False, fontsize=55.5, loc='center',
           bbox_to_anchor=(2028 / W, 1 - 2812 / H), handlelength=3.3, handletextpad=0.1,
           columnspacing=0.6, borderpad=0)

fig.savefig('out.png', dpi=100, facecolor='white')
